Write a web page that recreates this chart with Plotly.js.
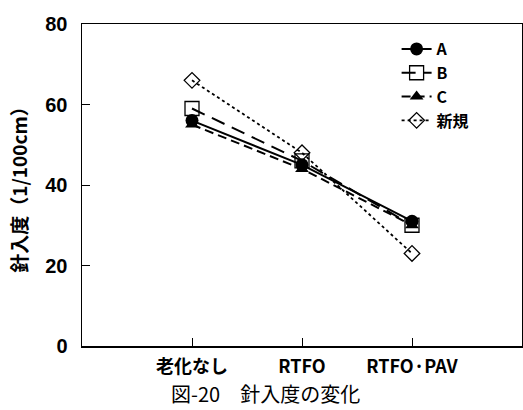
<!DOCTYPE html>
<html><head><meta charset="utf-8">
<script src="https://cdn.plot.ly/plotly-3.0.1.min.js"></script>
<style>body{margin:0;background:#fff}#chart{width:523px;height:410px}</style>
</head><body><div id="chart"></div>
<script>
const categories = ['老化なし', 'RTFO', 'RTFO·PAV'];
const seriesNames = ['A', 'B', 'C', '新規'];
const valuesA = [56, 45, 31];
const valuesB = [59, 46, 30];
const valuesC = [55, 44, 30];
const valuesNew = [66, 48, 23];
const yTicks = [0, 20, 40, 60, 80];

const fontJP = '"Noto Sans CJK JP", "Liberation Sans", sans-serif';
const fontNum = '"Liberation Sans", Arial, sans-serif';

const styles = [
  {dash: 'solid', width: 2, marker: {symbol: 'circle', size: 13, color: '#000'}},
  {dash: '14px,8px', width: 2, marker: {symbol: 'square-open', size: 14, color: '#000', line: {width: 1.3}}},
  {dash: '9px,5px', width: 2, marker: {symbol: 'triangle-up', size: 12, color: '#000'}},
  {dash: 'dot', width: 1.8, marker: {symbol: 'diamond-open', size: 12, color: '#000', line: {width: 1.3}}}
];
const allValues = [valuesA, valuesB, valuesC, valuesNew];

const traces = allValues.map((v, i) => ({
  x: categories, y: v, name: seriesNames[i],
  type: 'scatter', mode: 'lines+markers',
  line: {color: '#000', dash: styles[i].dash, width: styles[i].width},
  marker: styles[i].marker
}));

const layout = {
  width: 523, height: 410,
  margin: {l: 82, r: 1, t: 24, b: 64},
  paper_bgcolor: '#fff', plot_bgcolor: '#fff',
  showlegend: true,
  legend: {x: 0.715, y: 0.975, xanchor: 'left', yanchor: 'top', bgcolor: 'rgba(0,0,0,0)',
    font: {family: fontJP, size: 16, color: '#000', weight: 'bold'}, tracegroupgap: 0},
  xaxis: {
    type: 'category', range: [-1, 3],
    showline: true, linecolor: '#000', linewidth: 1.5, mirror: true,
    ticks: 'inside', ticklen: 8, tickcolor: '#000', showgrid: false, zeroline: false,
    ticklabelstandoff: 4,
    tickfont: {family: fontJP, size: 18, color: '#000', weight: 'bold'}
  },
  yaxis: {
    range: [0, 80], tickvals: yTicks, showline: true, linecolor: '#000', linewidth: 1.5, mirror: true,
    ticks: 'inside', ticklen: 8, tickcolor: '#000', showgrid: false, zeroline: false,
    ticklabelstandoff: 9,
    tickfont: {family: fontNum, size: 20, color: '#000', weight: 'bold'},
    title: {text: '針入度（1/100cm）', font: {family: fontJP, size: 19, color: '#000', weight: 'bold'}, standoff: 12}
  },
  annotations: [{
    text: '図-20　針入度の変化', xref: 'paper', yref: 'paper', x: 0.418, y: -0.149,
    xanchor: 'center', yanchor: 'middle', showarrow: false,
    font: {family: fontJP, size: 20, color: '#000'}
  }]
};
Plotly.newPlot('chart', traces, layout, {displayModeBar: false, staticPlot: true});
</script></body></html>
